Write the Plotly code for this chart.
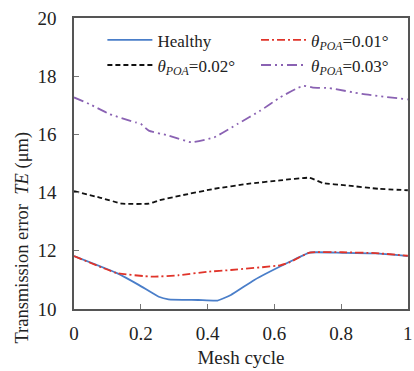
import plotly.graph_objects as go

# Data
x_healthy = [0, 0.127, 0.195, 0.254, 0.283, 0.372, 0.43, 0.47, 0.539, 0.637, 0.706, 0.804, 0.903, 1.0]
y_healthy = [11.82, 11.24, 10.82, 10.42, 10.33, 10.31, 10.29, 10.48, 10.99, 11.57, 11.94, 11.93, 11.91, 11.82]

x_001 = [0, 0.127, 0.234, 0.313, 0.40, 0.47, 0.617, 0.645, 0.706, 0.804, 0.903, 1.0]
y_001 = [11.82, 11.24, 11.11, 11.16, 11.28, 11.34, 11.5, 11.6, 11.94, 11.95, 11.92, 11.83]

x_002 = [0, 0.077, 0.145, 0.224, 0.254, 0.32, 0.42, 0.52, 0.617, 0.706, 0.745, 0.814, 0.912, 1.0]
y_002 = [14.05, 13.83, 13.62, 13.62, 13.73, 13.9, 14.13, 14.3, 14.42, 14.51, 14.33, 14.25, 14.13, 14.08]

x_003 = [0, 0.047, 0.106, 0.185, 0.2, 0.224, 0.283, 0.352, 0.42, 0.49, 0.559, 0.617, 0.686, 0.716, 0.765, 0.863, 1.0]
y_003 = [17.27, 17.04, 16.70, 16.41, 16.36, 16.13, 15.96, 15.73, 15.9, 16.36, 16.82, 17.27, 17.67, 17.61, 17.59, 17.39, 17.2]

x_ticks = [0, 0.2, 0.4, 0.6, 0.8, 1]
x_ticklabels = ["0", "0.2", "0.4", "0.6", "0.8", "1"]
y_ticks = [10, 12, 14, 16, 18, 20]

theta = "<i>θ</i><sub><i>POA</i></sub>"
names = ["Healthy", theta + "=0.01°", theta + "=0.02°", theta + "=0.03°"]
y_title = "Transmission error  <i>TE</i> (μm)"
x_title = "Mesh cycle"

FONT = "Liberation Serif"

fig = go.Figure()
fig.add_trace(go.Scatter(x=x_healthy, y=y_healthy, mode="lines", name=names[0], legend="legend",
                         line=dict(color="#4a7ec9", width=1.8, shape="spline", smoothing=0.4)))
fig.add_trace(go.Scatter(x=x_001, y=y_001, mode="lines", name=names[1], legend="legend2",
                         line=dict(color="#e0342a", width=1.8, dash="8px,3px,2px,3px", shape="spline", smoothing=0.4)))
fig.add_trace(go.Scatter(x=x_002, y=y_002, mode="lines", name=names[2], legend="legend",
                         line=dict(color="#111111", width=1.8, dash="5px,3px", shape="spline", smoothing=0.4)))
fig.add_trace(go.Scatter(x=x_003, y=y_003, mode="lines", name=names[3], legend="legend2",
                         line=dict(color="#8a62b3", width=1.8, dash="10px,4px,2px,4px,2px,4px", shape="spline", smoothing=0.4)))

leg_common = dict(orientation="v", yanchor="top", xanchor="left",
                  bgcolor="rgba(0,0,0,0)", font=dict(family=FONT, size=17, color="#222"),
                  traceorder="normal", tracegroupgap=0, itemwidth=45)

fig.update_layout(
    width=414, height=371,
    margin=dict(l=74, r=1, t=18, b=62),
    paper_bgcolor="white", plot_bgcolor="white",
    font=dict(family=FONT, size=19, color="#222"),
    showlegend=True,
    legend=dict(x=0.085, y=0.985, **leg_common),
    legend2=dict(x=0.545, y=0.985, **leg_common),
    xaxis=dict(range=[0, 1.0005], tickvals=x_ticks, ticktext=x_ticklabels,
               ticks="inside", ticklen=5, tickcolor="#777",
               showline=True, linecolor="#555", linewidth=1.5, mirror=True,
               showgrid=False, zeroline=False, ticklabeloverflow="allow",
               ticklabelstandoff=6,
               title=dict(text=x_title, font=dict(family=FONT, size=19), standoff=8),
               tickfont=dict(family=FONT, size=19)),
    yaxis=dict(range=[10, 20], tickvals=y_ticks,
               ticks="inside", ticklen=5, tickcolor="#777",
               showline=True, linecolor="#555", linewidth=1.5, mirror=True,
               showgrid=False, zeroline=False, ticklabelstandoff=12,
               tickfont=dict(family=FONT, size=19)),
    annotations=[dict(text=y_title, textangle=-90, xref="paper", yref="paper",
                      x=-0.153, y=0.245, xanchor="center", yanchor="middle",
                      showarrow=False, font=dict(family=FONT, size=18.5, color="#222"))],
)

fig.write_html("out.html")
